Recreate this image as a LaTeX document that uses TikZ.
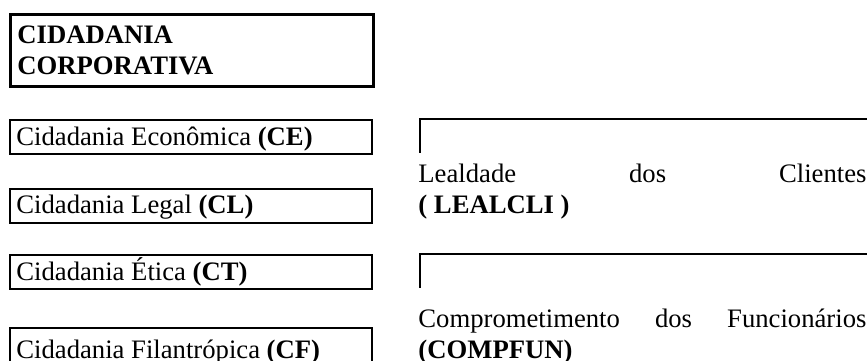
\documentclass[tikz,border=0pt]{standalone}
\usepackage{fontspec}
\setmainfont{Liberation Serif}
\begin{document}
\begin{tikzpicture}[x=0.45pt,y=-0.45pt,
  font=\fontsize{12pt}{13.95pt}\selectfont,
  thickbox/.style={draw, line width=1.35pt, inner sep=0pt, anchor=north west},
  thinbox/.style={draw, line width=0.9pt, inner sep=0pt, anchor=north west},
  lbl/.style={anchor=base west, inner sep=0pt, align=left},
  bracket/.style={draw, line width=0.9pt}]
\useasboundingbox (0,0) rectangle (867,361);
\clip (0,0) rectangle (867,361);

% left column boxes
\node[thickbox, minimum width=163.35pt, minimum height=32.4pt] (cc) at (8.5,13.5) {};
\node[thinbox, minimum width=162.9pt, minimum height=15.3pt] (ce) at (9,119) {};
\node[thinbox, minimum width=162.9pt, minimum height=15.3pt] (cl) at (9,188) {};
\node[thinbox, minimum width=162.9pt, minimum height=15.3pt] (ct) at (9,254) {};
\node[thinbox, minimum width=162.9pt, minimum height=32pt] (cf) at (9,327.5) {};

% left column texts
\node[lbl] (cct) at (17,75) {\textbf{CIDADANIA}\\\textbf{CORPORATIVA}};
\node[lbl] (cet) at (16,146) {Cidadania Econômica \textbf{(CE)}};
\node[lbl] (clt) at (16,214) {Cidadania Legal \textbf{(CL)}};
\node[lbl] (ctt) at (16,281) {Cidadania Ética \textbf{(CT)}};
\node[lbl] (cft) at (16,359) {Cidadania Filantrópica \textbf{(CF)}};

% right column open frames
\coordinate (l1b) at (419.5,153);
\coordinate (l1t) at (419.5,119);
\coordinate (l1r) at (870,119);
\coordinate (l2b) at (419.5,288);
\coordinate (l2t) at (419.5,254);
\coordinate (l2r) at (870,254);
\path[bracket] (l1b) -- (l1t) -- (l1r);
\path[bracket] (l2b) -- (l2t) -- (l2r);

% right column texts
\node[lbl] (lct) at (418,214) {\makebox[201.6pt][s]{Lealdade dos Clientes}\\\textbf{( LEALCLI )}};
\node[lbl] (cpt) at (418,359) {\makebox[201.6pt][s]{Comprometimento dos Funcionários}\\\textbf{(COMPFUN)}};
\end{tikzpicture}
\end{document}
